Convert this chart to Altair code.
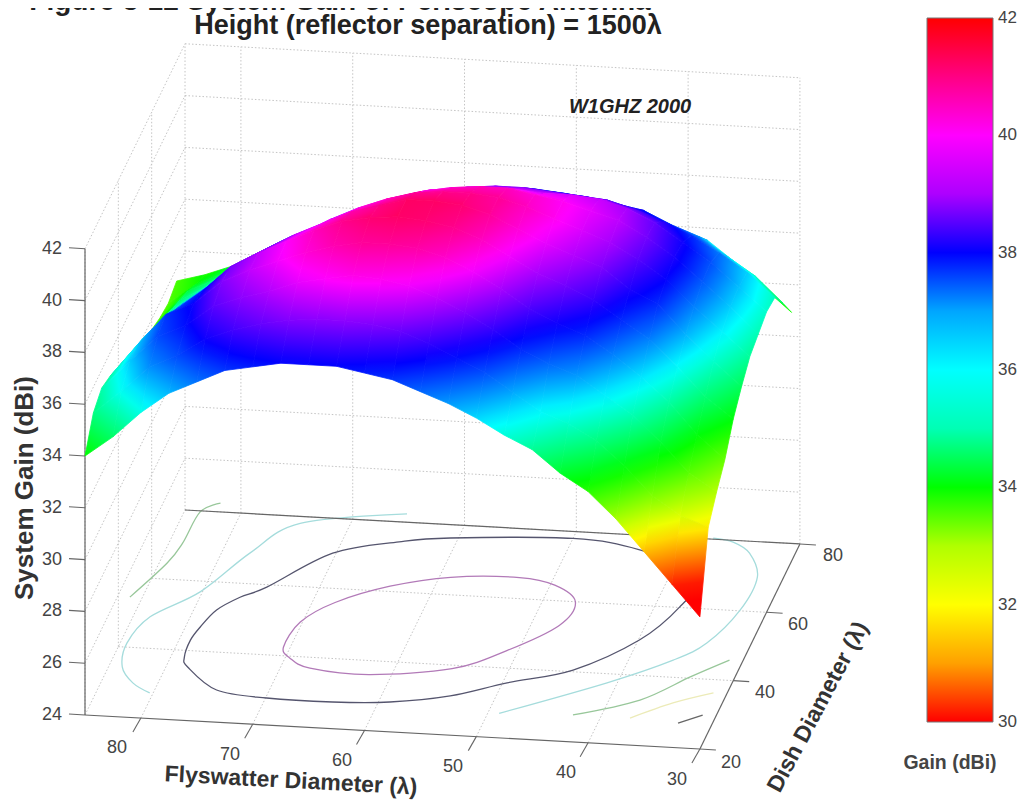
import altair as alt
import numpy as np
import pandas as pd

# ---- values ----
FLY = [30, 32.5, 35, 37.5, 40, 42.5, 45, 47.5, 50, 52.5, 55, 57.5, 60, 62.5, 65, 67.5, 70, 72.5, 75, 77.5, 80, 82.5, 85]
DISH = [20, 25, 30, 35, 40, 45, 50, 55, 60, 65, 70, 75]
# one row per flyswatter diameter, one column per dish diameter
GAIN = [
    [29.1, 31.9, 32.6, 33.2, 34.1, 34.7, 35.2, 35.4, 35.6, 35.5, 34.6, 33.6],
    [30.3, 32.3, 33.3, 34.1, 34.9, 35.6, 36.1, 36.4, 36.5, 36.4, 35.6, 34.5],
    [31.5, 33.0, 34.4, 35.3, 36.0, 36.6, 37.0, 37.3, 37.4, 37.1, 36.3, 35.4],
    [32.7, 34.1, 35.4, 36.2, 37.0, 37.7, 38.0, 38.2, 38.1, 37.7, 37.0, 36.2],
    [33.7, 35.0, 36.1, 37.0, 37.7, 38.2, 38.7, 38.9, 38.8, 38.2, 37.4, 36.5],
    [34.35, 35.6, 36.8, 37.7, 38.4, 39.0, 39.3, 39.5, 39.3, 38.6, 37.9, 37.0],
    [35.2, 36.0, 37.2, 38.1, 38.9, 39.4, 39.7, 39.8, 39.6, 38.9, 38.1, 37.3],
    [35.7, 36.7, 37.7, 38.6, 39.3, 39.8, 40.1, 40.1, 39.7, 39.0, 38.3, 37.5],
    [36.3, 37.4, 38.4, 39.3, 39.9, 40.3, 40.5, 40.3, 39.7, 39.1, 38.4, 37.7],
    [36.8, 37.9, 39.0, 39.9, 40.5, 40.8, 40.8, 40.5, 39.8, 39.2, 38.5, 37.8],
    [37.2, 38.4, 39.5, 40.4, 40.9, 41.1, 40.9, 40.5, 39.8, 39.2, 38.5, 37.8],
    [37.6, 38.8, 39.9, 40.7, 41.1, 41.2, 40.9, 40.4, 39.7, 39.1, 38.4, 37.7],
    [37.8, 39.0, 40.1, 40.8, 41.2, 41.2, 40.8, 40.2, 39.6, 38.9, 38.3, 37.6],
    [38.0, 39.1, 40.2, 40.8, 41.1, 40.9, 40.5, 39.9, 39.3, 38.7, 38.1, 37.5],
    [38.0, 39.1, 40.0, 40.6, 40.9, 40.6, 40.1, 39.5, 38.9, 38.3, 37.7, 37.1],
    [38.0, 39.0, 39.8, 40.3, 40.5, 40.1, 39.6, 39.0, 38.5, 37.9, 37.3, 36.8],
    [37.8, 38.8, 39.4, 39.9, 40.0, 39.6, 39.0, 38.5, 38.0, 37.4, 36.9, 36.4],
    [37.6, 38.5, 39.1, 39.5, 39.5, 39.0, 38.5, 38.0, 37.5, 36.9, 36.4, 35.9],
    [37.1, 38.1, 38.7, 39.0, 38.9, 38.4, 37.9, 37.4, 36.9, 36.4, 35.9, 35.3],
    [36.6, 37.4, 37.9, 38.1, 37.9, 37.5, 37.1, 36.7, 36.3, 35.8, 35.3, 34.8],
    [35.8, 36.9, 37.4, 37.6, 37.1, 36.7, 36.2, 35.8, 35.4, 35.0, 34.6, 34.2],
    [34.8, 35.9, 36.4, 36.4, 36.1, 35.7, 35.4, 35.1, 34.8, 34.5, 34.1, 33.8],
    [34.0, 35.0, 35.3, 35.1, 34.8, 34.5, 34.2, 33.9, 33.6, 33.4, 33.3, 33.5],
]

# floor contours as (flyswatter, dish) pairs
CONTOURS = [
    (40, "#b27ab8", "cardinal-closed", [(70.6, 42.5), (70.2, 49.9), (68, 56), (63.9, 61.5), (59, 65), (53, 66), (49.6, 64.4),
                                        (47.1, 60), (47.5, 53), (51, 45), (55, 39), (62, 36), (67.4, 36.9), (69.6, 39.5)]),
    (38, "#55556e", "cardinal-closed", [(78.8, 38), (79, 43), (78.7, 46.9), (78, 52), (76.5, 56), (74.6, 59.3), (70.3, 70), (65, 74.3),
                                        (60.7, 76.2), (50, 78), (43.7, 75.8), (37.4, 69.6), (37.8, 60.1), (39.9, 50.1),
                                        (44.4, 40.5), (49.6, 35.8), (54, 31.2), (59, 28.5), (64, 27.6), (69.9, 27.7),
                                        (74.6, 29.2), (78.1, 35.3)]),
    (36.1, "#a5dcdc", "cardinal", [(65.5, 82.4), (74.4, 78), (77.5, 68.8), (80.2, 56.9), (83.5, 49), (84.4, 41.2), (83.8, 34.3),
                                   (82.2, 29.9), (80.3, 27.3)]),
    (36.2, "#a5dcdc", "cardinal", [(49, 27), (40.9, 37.4), (36.1, 44.9), (33.9, 50.3), (32.4, 60.2), (32.3, 69.9), (34, 76.6),
                                   (35.9, 79.5), (37.8, 80.3)]),
    (34.1, "#98c79a", "cardinal", [(82.2, 82.5), (83.6, 79.7), (83.8, 70.6), (84.3, 64.6), (86.1, 54.3)]),
    (34.2, "#98c79a", "cardinal", [(42.5, 27.7), (37.3, 33), (33.9, 40.4), (31.2, 45.8)]),
    (32, "#ecebb8", "cardinal", [(37.4, 27.7), (34.3, 32.7), (31.2, 36.2)]),
    (30, "#666666", "cardinal", [(33, 27), (31.2, 29.7)]),
]

GAIN_TICKS = [24, 26, 28, 30, 32, 34, 36, 38, 40, 42]
FLY_TICKS = [80, 70, 60, 50, 40, 30]
DISH_TICKS = [20, 40, 60, 80]
LEGEND_VALUES = [32, 34, 36, 38, 40]
LEGEND_ENDS = [30, 42]
COLOR_STOPS = [30, 32, 34, 36, 38, 40, 42]
COLOR_RANGE = ["#ff0000", "#ffff00", "#00ff00", "#00ffff", "#0000ff", "#ff00ff", "#ff0000"]
COLOR_RGB = [(int(c[1:3], 16), int(c[3:5], 16), int(c[5:7], 16)) for c in COLOR_RANGE]


def colour_of(g):
    """The colour that the gain scale gives to one gain."""
    return "rgb(%d,%d,%d)" % tuple(round(float(np.interp(g, COLOR_STOPS, [c[k] for c in COLOR_RGB]))) for k in range(3))


# ---- oblique projection of the plot box onto the page ----
def proj(f, d, g=24):
    a, b = 85 - f, d - 20
    return 85 + a * 11.18 + b * 1.667, 715 + a * 0.618 - b * 3.417 - (g - 24) * 25.9


W, H = 1011, 794
xs = alt.Scale(domain=[8, 1019], range=[0, W], nice=False, zero=False)
ys = alt.Scale(domain=[8, 802], range=[0, H], nice=False, zero=False)
X = alt.X("x:Q", scale=xs, axis=None)
Y = alt.Y("y:Q", scale=ys, axis=None)


def segs(pairs, **mark):
    rows = []
    for p, q in pairs:
        x, y = proj(*p)
        x2, y2 = proj(*q)
        rows.append({"x": x, "y": y, "x2": x2, "y2": y2})
    return alt.Chart(pd.DataFrame(rows)).mark_rule(**mark).encode(X, Y, x2="x2:Q", y2="y2:Q")


def label(text, x, y, size=18, weight="normal", angle=0, color="#444444", style="normal", align="center"):
    kw = dict(fontSize=size, fontWeight=weight, color=color, font="Liberation Sans", fontStyle=style,
              align=align, baseline="middle")
    if angle:
        kw["angle"] = angle
    return alt.Chart(pd.DataFrame({"x": [x], "y": [y], "t": [text]})).mark_text(**kw).encode(X, Y, text="t:N")


# dotted box grid
grid = []
for g in GAIN_TICKS:
    grid.append(((85, 80, g), (30, 80, g)))
    grid.append(((85, 20, g), (85, 80, g)))
for f in [85] + FLY_TICKS:
    grid.append(((f, 80, 24), (f, 80, 42)))
for f in FLY_TICKS[:-1]:
    grid.append(((f, 20, 24), (f, 80, 24)))
for d in DISH_TICKS[:-1]:
    grid.append(((85, d, 24), (85, d, 42)))
for d in DISH_TICKS[1:-1]:
    grid.append(((85, d, 24), (30, d, 24)))
grid_layer = segs(grid, color="#c4c4c4", strokeWidth=1, strokeDash=[1.5, 2])

# contours
contour_layers = []
for level, colour, interp, pts in CONTOURS:
    rows = []
    for i, (f, d) in enumerate(pts):
        x, y = proj(f, d)
        rows.append({"x": x, "y": y, "o": i})
    contour_layers.append(
        alt.Chart(pd.DataFrame(rows)).mark_line(color=colour, strokeWidth=1.3, interpolate=interp).encode(X, Y, order="o:Q")
    )

# axis lines and ticks
edges = [((85, 20, 24), (85, 20, 42)), ((85, 20, 24), (30, 20, 24)), ((30, 20, 24), (30, 80, 24)), ((85, 80, 24), (30, 80, 24))]
axis_layer = segs(edges, color="#666666", strokeWidth=1.2)
tick_rows = []
for g in GAIN_TICKS:
    x, y = proj(85, 20, g)
    tick_rows.append({"x": x - 16, "y": y - 1, "x2": x, "y2": y})
for f in FLY_TICKS:
    x, y = proj(f, 20)
    tick_rows.append({"x": x, "y": y, "x2": x - 8, "y2": y + 14})
for d in DISH_TICKS:
    x, y = proj(30, d)
    tick_rows.append({"x": x, "y": y, "x2": x + 16, "y2": y + 1})
tick_layer = alt.Chart(pd.DataFrame(tick_rows)).mark_rule(color="#666666", strokeWidth=1.1).encode(X, Y, x2="x2:Q", y2="y2:Q")


def shade(ring, gains):
    """A linear gradient over one cell's box that follows the gains at its four corners."""
    pts = np.array(ring, dtype=float)
    lo, hi = pts.min(axis=0), pts.max(axis=0)
    uv = (pts - lo) / np.maximum(hi - lo, 1e-6)
    sol = np.linalg.lstsq(np.c_[uv, np.ones(4)], np.array(gains), rcond=None)[0]
    grad = sol[:2]
    norm = float(np.hypot(*grad))
    if norm < 1e-6:
        return {"gradient": "linear", "stops": [{"offset": 0, "color": colour_of(gains[0])}, {"offset": 1, "color": colour_of(gains[0])}]}
    t = grad / norm
    mid = np.array([0.5, 0.5])
    reach = float(np.abs((uv - mid) @ t).max())
    p1, p2 = mid - reach * t, mid + reach * t
    g1 = float(sol[:2] @ p1 + sol[2])
    g2 = float(sol[:2] @ p2 + sol[2])
    stops = [{"offset": k / 6, "color": colour_of(g1 + (g2 - g1) * k / 6)} for k in range(7)]
    return {"gradient": "linear", "x1": float(p1[0]), "y1": float(p1[1]), "x2": float(p2[0]), "y2": float(p2[1]), "stops": stops}


# surface, painted from the back to the front
features = []
for j in range(len(DISH) - 2, -1, -1):
    for i in range(len(FLY) - 1):
        corners = [(i, j), (i + 1, j), (i + 1, j + 1), (i, j + 1)]
        ring, gains = [], []
        for a, b in corners:
            g = GAIN[a][b]
            gains.append(g)
            x, y = proj(FLY[a], DISH[b], g)
            ring.append([x - 8, y - 8])
        features.append({"type": "Feature", "geometry": {"type": "Polygon", "coordinates": [ring + [ring[0]]]},
                         "properties": {"grad": shade(ring, gains)}})

gain_scale = alt.Scale(domain=COLOR_STOPS, range=COLOR_RANGE, clamp=True)
surface = (
    alt.Chart(alt.Data(values=features))
    .transform_calculate(paint="datum.properties.grad")
    .mark_geoshape(strokeWidth=0.8)
    .encode(
        fill=alt.Fill("paint:N", scale=None),
        stroke=alt.Stroke("paint:N", scale=None),
    )
    .project(type="identity", scale=1, translate=[0, 0])
)
# the colour bar: a real legend of the gain scale
key_rows = pd.DataFrame({"gain": COLOR_STOPS, "x": [0] * 7, "y": [0] * 7})
colour_key = (
    alt.Chart(key_rows)
    .mark_square(opacity=0, size=1)
    .encode(
        X, Y,
        color=alt.Color("gain:Q", scale=gain_scale,
                        legend=alt.Legend(type="gradient", orient="none", legendX=919, legendY=10, direction="vertical", title=None,
                                          gradientLength=704, gradientThickness=66, values=LEGEND_VALUES,
                                          labelFontSize=17, labelFont="Liberation Sans", labelColor="#444444",
                                          labelOverlap=False,
                                          gradientStrokeColor="#777777", gradientStrokeWidth=1, labelOffset=5)),
    )
)

texts = [
    label("Figure 3-12  System Gain of Periscope Antenna", 340, 2, size=28, weight="bold", color="#222222"),
    label("Height (reflector separation) = 1500\u03bb", 428, 26, size=27, weight="bold", color="#222222"),
    label("W1GHZ 2000", 630, 107, size=20, weight="bold", style="italic", color="#222222"),
    label("System Gain (dBi)", 25, 488, size=26, weight="bold", angle=270, color="#333333"),
    label("Flyswatter Diameter (\u03bb)", 291, 781, size=23, weight="bold", angle=3, color="#333333"),
    label("Dish Diameter (\u03bb)", 818, 707, size=23, weight="bold", angle=298, color="#333333"),
    label("Gain (dBi)", 950, 763, size=19.5, weight="bold", color="#444444"),
]
for t, y in zip(LEGEND_ENDS, [722, 18]):
    texts.append(label(str(t), 998, y, size=17, align="left"))
for g in GAIN_TICKS:
    x, y = proj(85, 20, g)
    texts.append(label(str(g), 62, y, align="right"))
for t, (x, y) in zip(FLY_TICKS, [(117, 748), (230, 755), (342, 761), (453, 767), (566, 773), (677, 780)]):
    texts.append(label(str(t), x, y))
for t, (x, y) in zip(DISH_TICKS, [(731, 763), (765, 693), (798, 625), (833, 556)]):
    texts.append(label(str(t), x, y))

chart = alt.layer(grid_layer, *contour_layers, axis_layer, tick_layer, colour_key, surface, *texts).properties(
    width=W, height=H, padding=0, autosize=alt.AutoSizeParams(type="none")
).configure_view(stroke=None)

chart.save("out.html", embed_options={"renderer": "svg", "actions": False})
